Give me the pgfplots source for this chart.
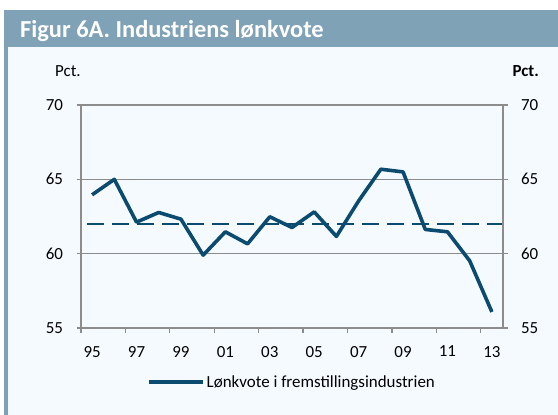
\documentclass[border=0pt]{standalone}
\usepackage{fontspec}
\setmainfont{Carlito}
\usepackage{pgfplots}
\usepackage{pgfplotstable}
\pgfplotsset{compat=1.18}
\definecolor{barblue}{HTML}{7FA2B7}
\definecolor{bgblue}{HTML}{F5FAFE}
\definecolor{lineblue}{HTML}{0B4B70}
\definecolor{gridgray}{HTML}{8C8C8C}

% Lønkvote i fremstillingsindustrien, pct.
\pgfplotstableread{
year  val
1995  63.96
1996  65.00
1997  62.12
1998  62.77
1999  62.32
2000  59.90
2001  61.47
2002  60.66
2003  62.48
2004  61.76
2005  62.81
2006  61.16
2007  63.55
2008  65.68
2009  65.50
2010  61.63
2011  61.47
2012  59.52
2013  56.08
}\lonkvote

\newcommand{\lblfont}{\fontsize{17}{20}\selectfont}

\begin{document}
\begin{tikzpicture}
% frame
\fill[white] (0bp,0bp) rectangle (558bp,415bp);
\fill[bgblue] (4bp,0bp) rectangle (558bp,368bp);
\fill[barblue] (4bp,368bp) rectangle (558bp,405bp);
\fill[barblue] (4bp,0bp) rectangle (7.5bp,368bp);
\node[anchor=base west, text=white, inner sep=0,
      font=\fontsize{24.5}{28}\selectfont\bfseries] at (20bp,377.7bp)
      {Figur 6A. Industriens lønkvote};
\node[anchor=base west, inner sep=0, font=\lblfont] at (55bp,338bp) {Pct.};
\node[anchor=base east, inner sep=0, font=\lblfont\bfseries] at (539bp,338bp) {Pct.};

\pgfplotsset{every axis/.append style={
  at={(81bp,87bp)}, anchor=south west,
  scale only axis, width=422bp, height=223bp,
  xmin=1994.5, xmax=2013.5, ymin=55, ymax=70,
  ytick={55,60,65,70},
  tick align=outside,
  major tick length=4.5bp, minor tick length=5bp,
  tick style={gridgray, line width=1.3bp},
  axis line style={gridgray, line width=1.5bp},
  tick label style={font=\lblfont},
  /pgf/number format/assume math mode=true,
}}

\begin{axis}[
  xtick={1995,1997,...,2013},
  xticklabels={95,97,99,01,03,05,07,09,11,13},
  minor xtick={1994.5,1996.5,...,2012.5},
  major x tick style={draw=none},
  xtick pos=bottom, ytick pos=left,
  ymajorgrids,
  grid style={gridgray, line width=1.4bp},
  xticklabel style={yshift=-10bp},
  yticklabel style={xshift=-10bp},
  clip=false,
  legend style={at={(0.5,-0.242)}, anchor=center, draw=none, fill=none,
                font=\lblfont, inner sep=0pt},
  legend image code/.code={\draw[#1] (0bp,0bp) -- (54bp,0bp);},
]
\addplot[lineblue, line width=2.2bp, dash pattern=on 17bp off 8bp, forget plot]
  coordinates {(1994.77,62.0) (2013.73,62.0)};
\addplot[lineblue, line width=3.6bp, line join=round] table[x=year, y=val] {\lonkvote};
\addlegendentry{Lønkvote i fremstillingsindustrien}
\end{axis}

\begin{axis}[
  axis x line=none,
  axis y line*=right,
  yticklabel style={xshift=10bp},
]
\end{axis}
\end{tikzpicture}
\end{document}
